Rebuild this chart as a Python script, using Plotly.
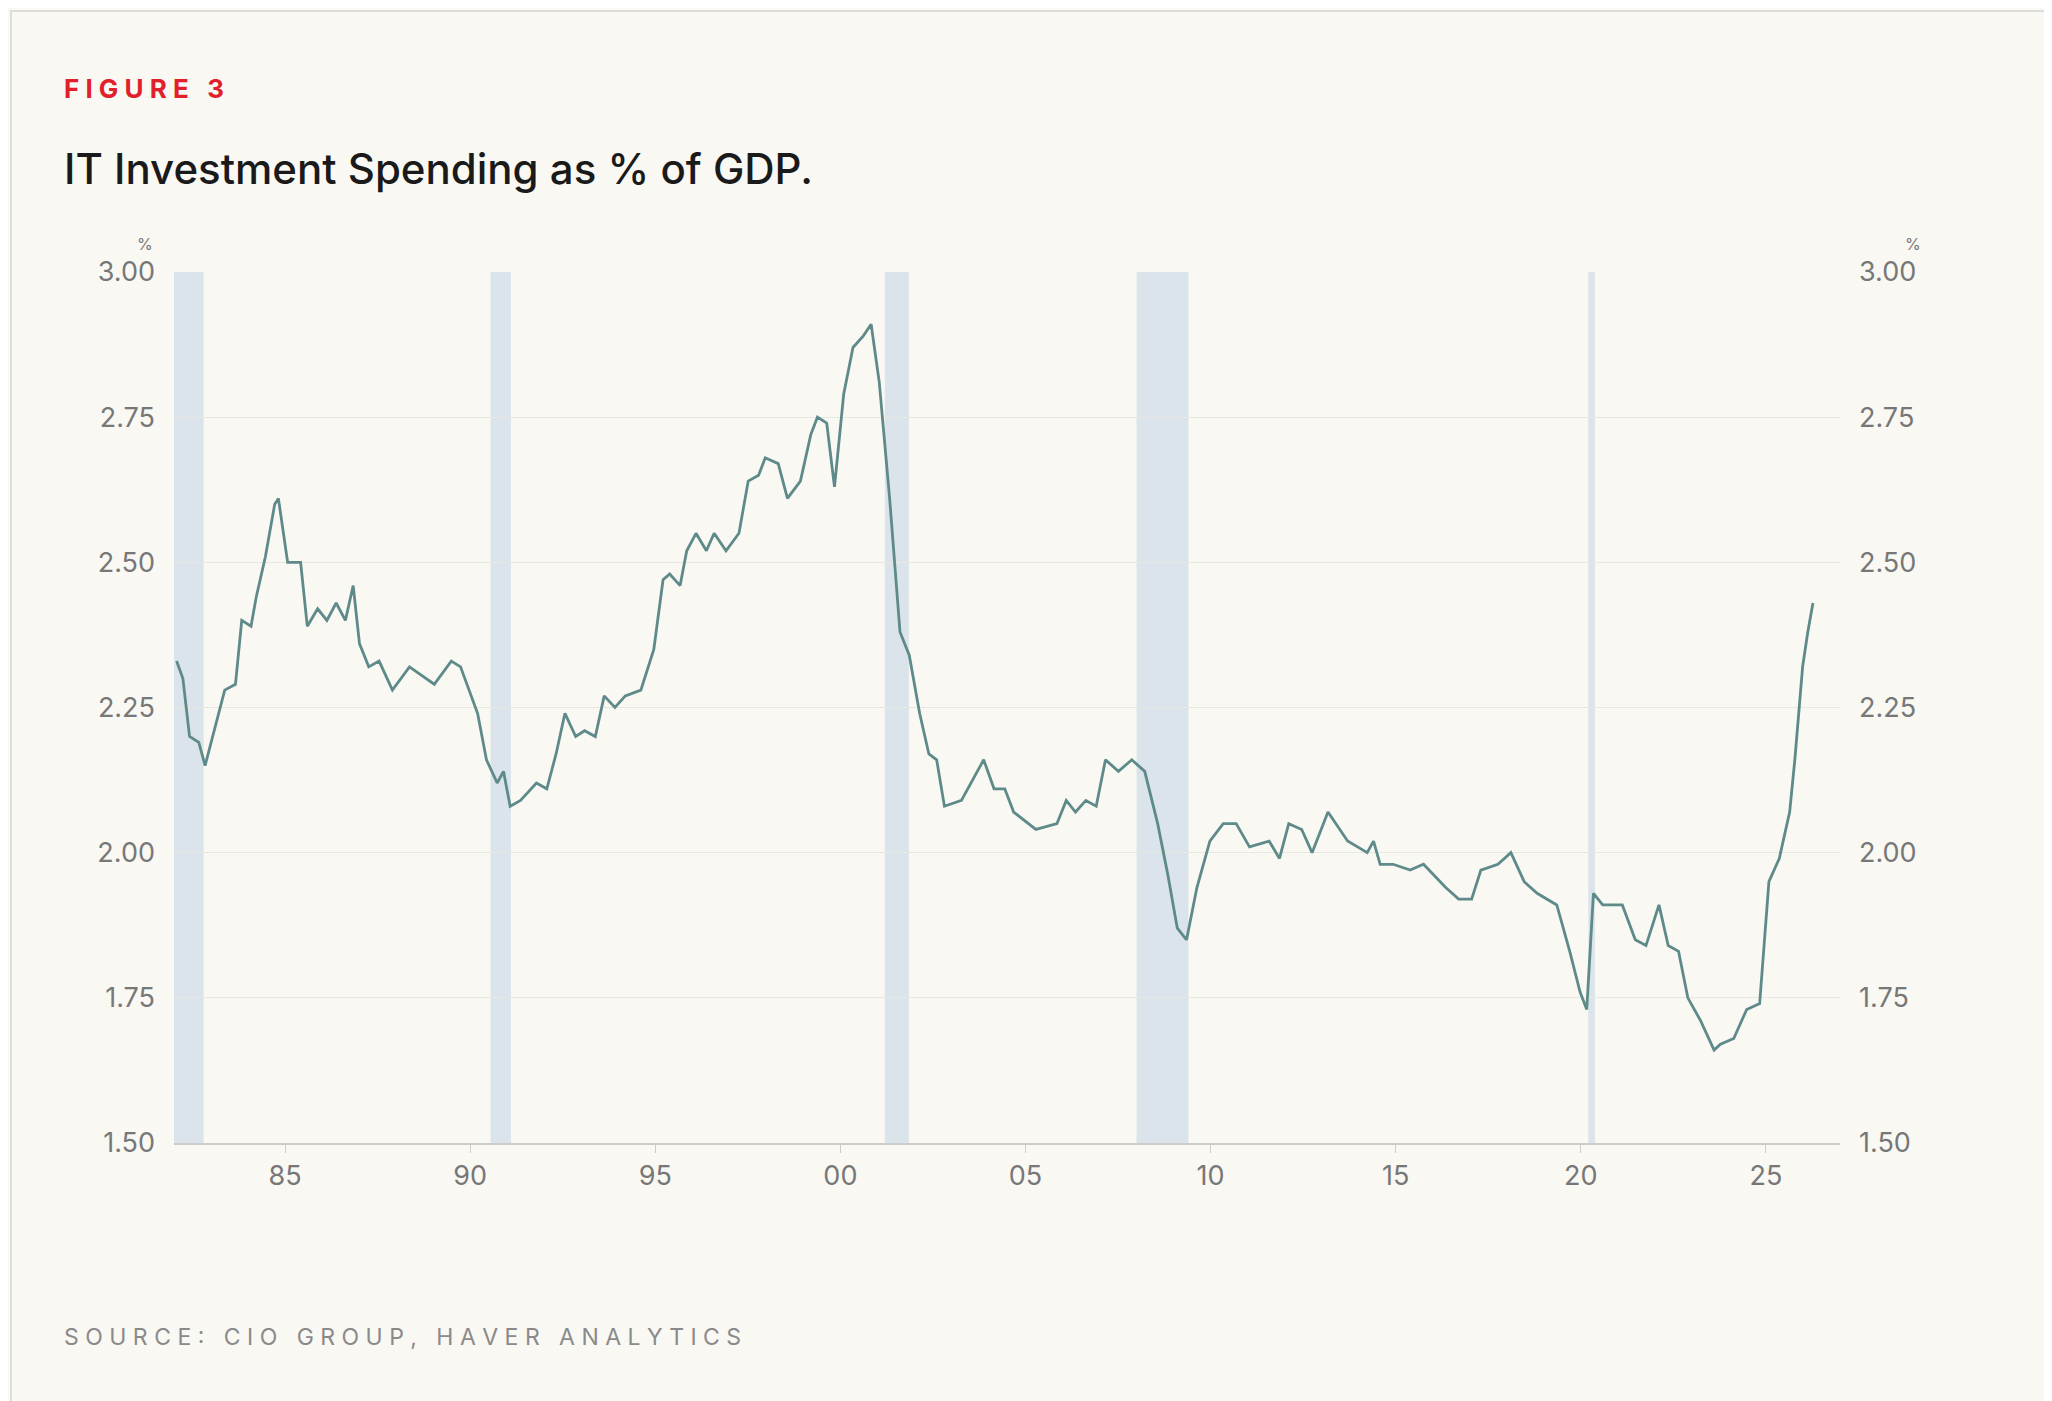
import plotly.graph_objects as go

years = [1982.07,1982.24,1982.42,1982.67,1982.84,1983.13,1983.37,1983.66,1983.83,1984.08,1984.22,1984.47,1984.72,1984.82,
1985.07,1985.42,1985.60,1985.88,1986.13,1986.38,1986.63,1986.84,1987.01,1987.26,1987.54,1987.90,1988.36,1989.03,1989.49,1989.74,
1990.20,1990.44,1990.73,1990.90,1991.08,1991.36,1991.79,1992.07,1992.32,1992.56,1992.85,1993.09,1993.38,1993.62,1993.91,1994.19,
1994.61,1994.96,1995.21,1995.39,1995.67,1995.85,1996.10,1996.38,1996.59,1996.91,1997.26,1997.51,1997.79,1997.97,1998.32,1998.57,
1998.92,1999.20,1999.38,1999.63,1999.84,2000.09,2000.34,2000.62,2000.83,2001.05,2001.33,2001.61,2001.86,2002.14,2002.39,2002.60,
2002.81,2003.27,2003.62,2003.87,2004.15,2004.44,2004.68,2005.28,2005.85,2006.10,2006.35,2006.63,2006.91,2007.16,2007.51,2007.87,
2008.22,2008.57,2008.85,2009.10,2009.35,2009.63,2009.98,2010.34,2010.69,2011.05,2011.58,2011.86,2012.11,2012.46,2012.74,2013.17,
2013.70,2014.23,2014.40,2014.58,2014.93,2015.39,2015.75,2016.35,2016.70,2017.05,2017.30,2017.76,2018.11,2018.47,2018.82,2019.35,
2019.70,2019.98,2020.16,2020.34,2020.59,2021.12,2021.47,2021.76,2022.11,2022.36,2022.64,2022.89,2023.24,2023.60,2023.77,2024.13,
2024.48,2024.83,2025.08,2025.36,2025.64,2025.78,2025.99,2026.13,2026.27]
values = [2.33,2.30,2.20,2.19,2.15,2.22,2.28,2.29,2.40,2.39,2.44,2.51,2.60,2.61,
2.50,2.50,2.39,2.42,2.40,2.43,2.40,2.46,2.36,2.32,2.33,2.28,2.32,2.29,2.33,2.32,
2.24,2.16,2.12,2.14,2.08,2.09,2.12,2.11,2.17,2.24,2.20,2.21,2.20,2.27,2.25,2.27,
2.28,2.35,2.47,2.48,2.46,2.52,2.55,2.52,2.55,2.52,2.55,2.64,2.65,2.68,2.67,2.61,
2.64,2.72,2.75,2.74,2.63,2.79,2.87,2.89,2.91,2.81,2.61,2.38,2.34,2.24,2.17,2.16,
2.08,2.09,2.13,2.16,2.11,2.11,2.07,2.04,2.05,2.09,2.07,2.09,2.08,2.16,2.14,2.16,
2.14,2.05,1.96,1.87,1.85,1.94,2.02,2.05,2.05,2.01,2.02,1.99,2.05,2.04,2.00,2.07,
2.02,2.00,2.02,1.98,1.98,1.97,1.98,1.94,1.92,1.92,1.97,1.98,2.00,1.95,1.93,1.91,
1.83,1.76,1.73,1.93,1.91,1.91,1.85,1.84,1.91,1.84,1.83,1.75,1.71,1.66,1.67,1.68,
1.73,1.74,1.95,1.99,2.07,2.16,2.32,2.38,2.43]

recession_start = [1982.0, 1990.55, 2001.2, 2008.0, 2020.2]
recession_end = [1982.8, 1991.1, 2001.85, 2009.4, 2020.38]

tick_vals = [1985, 1990, 1995, 2000, 2005, 2010, 2015, 2020, 2025]
tick_text = ["85", "90", "95", "00", "05", "10", "15", "20", "25"]
y_ticks = [1.50, 1.75, 2.00, 2.25, 2.50, 2.75, 3.00]

FONT = "Inter"
L, R, T, B = 166, 220, 264, 266
PW, PH = 2052 - L - R, 1401 - T - B

fig = go.Figure()
for s, e in zip(recession_start, recession_end):
    fig.add_vrect(x0=s, x1=e, fillcolor="#dbe4ea", line_width=0, layer="below")
fig.add_trace(go.Scatter(x=years, y=values, mode="lines",
                         line=dict(color="#5f8a8a", width=2.8), showlegend=False))
fig.add_trace(go.Scatter(x=[years[0]], y=[values[0]], yaxis="y2", mode="markers",
                         marker=dict(opacity=0), showlegend=False, hoverinfo="skip"))
fig.add_shape(type="rect", xref="paper", yref="paper", x0=-(L-3)/PW, x1=1+(R-3)/PW,
              y0=-(B-3)/PH, y1=1+(T-3)/PH, line=dict(color="#dddddd", width=2))

axis_y = dict(range=[1.5, 3.0], tickvals=y_ticks, tickformat=".2f", showgrid=True,
              gridcolor="#e8e8e2", zeroline=False, tickfont=dict(family=FONT, size=27, color="#777777"),
              ticks="", showline=False, ticklabelstandoff=18)
fig.update_layout(
    width=2052, height=1401,
    paper_bgcolor="#f9f8f3", plot_bgcolor="#f9f8f3",
    margin=dict(l=L, r=R, t=T, b=B),
    xaxis=dict(range=[1982.0, 2027.0], tickvals=tick_vals, ticktext=tick_text, showgrid=False,
               showline=True, linecolor="#cccccc", linewidth=1.5, ticks="outside", ticklen=8,
               tickcolor="#cccccc", tickfont=dict(family=FONT, size=27, color="#777777"), zeroline=False),
    yaxis=dict(**axis_y, side="left"),
    yaxis2=dict(**axis_y, side="right", overlaying="y"),
)

def ann(text, x, y, size, color, weight="normal"):
    fig.add_annotation(text=text, x=(x-L)/PW, y=1-(y-T)/PH, xref="paper", yref="paper",
                       showarrow=False, xanchor="left", yanchor="middle",
                       font=dict(family=FONT, size=size, color=color, weight=weight))
ann("F I G U R E&nbsp;&nbsp;&nbsp;3", 54, 80, 26, "#e0202a", "bold")
ann("IT Investment Spending as % of GDP.", 54, 161, 42, "#1a1a1a", 500)
ann("S O U R C E :&nbsp;&nbsp;&nbsp;C I O&nbsp;&nbsp;&nbsp;G R O U P ,&nbsp;&nbsp;&nbsp;H A V E R&nbsp;&nbsp;&nbsp;A N A L Y T I C S",
    54, 1329, 23, "#8a8a8a")
ann("%", 127, 236, 16, "#777777")
ann("%", 1895, 236, 16, "#777777")
fig.write_html("out.html")
